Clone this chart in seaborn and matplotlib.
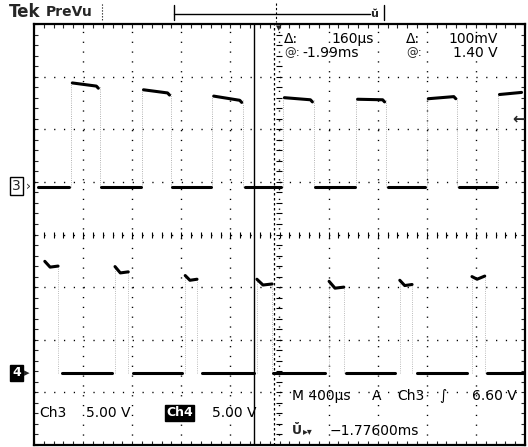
import numpy as np
import pandas as pd
import matplotlib.pyplot as plt
from matplotlib.lines import Line2D
import seaborn as sns

sns.set_theme(style="white")
plt.rcParams["font.family"] = ["DejaVu Sans"]

# screen is 10 x 8 divisions, values below are in divisions from screen centre
# M 400us/div, Ch3 and Ch4 5.00 V/div
ch3_rise = [-4.25, -2.80, -1.37, 0.07, 1.56, 3.00, 4.45]
ch3_fall = [-3.66, -2.21, -0.74, 0.70, 2.17, 3.62]
ch3_high_start = [2.88, 2.75, 2.63, 2.60, 2.57, 2.58, 2.66]
ch3_high_end = [2.82, 2.69, 2.55, 2.56, 2.56, 2.62, 2.70]
ch3_low = 0.90

ch4_blip_start = [-4.78, -3.35, -1.92, -0.46, 1.01, 2.45, 3.92]
ch4_blip_end = [-4.51, -3.08, -1.68, -0.15, 1.31, 2.70, 4.18]
ch4_blip_lvl_start = [-0.54, -0.64, -0.81, -0.88, -0.92, -0.90, -0.83]
ch4_blip_lvl_end = [-0.60, -0.71, -0.85, -0.94, -1.00, -0.95, -0.79]
ch4_low_start = [-4.43, -2.98, -1.58, -0.13, 1.35, 2.80, 4.23]
ch4_low_end = [-3.41, -1.99, -0.52, 0.93, 2.35, 3.82, 5.00]
ch4_low = -2.63

cursor_a = -0.52
cursor_delta = 0.40  # 160us


def build_traces():
    rows = []
    seg = 0
    # ch3 low stretches
    lows = [(-4.94, ch3_rise[0])] + list(zip(ch3_fall, ch3_rise[1:]))
    for a, b in lows:
        rows += [(a + 0.03, ch3_low, seg, "ch3"), (b - 0.03, ch3_low, seg, "ch3")]
        seg += 1
    # ch3 high stretches
    falls = ch3_fall + [5.0]
    for r, f, h0, h1 in zip(ch3_rise, falls, ch3_high_start, ch3_high_end):
        rows += [(r + 0.03, h0, seg, "ch3"), (f - 0.07, h1, seg, "ch3")]
        if f < 5.0:
            rows.append((f - 0.03, h1 - 0.04, seg, "ch3"))
        seg += 1
    # ch4 short pulses
    for a, b, l0, l1 in zip(ch4_blip_start, ch4_blip_end,
                            ch4_blip_lvl_start, ch4_blip_lvl_end):
        mid = a + (b - a) * 0.4
        rows += [(a, l0 + 0.03, seg, "ch4"), (mid, min(l0, l1) - 0.02, seg, "ch4"),
                 (b, l1, seg, "ch4")]
        seg += 1
    for a, b in zip(ch4_low_start, ch4_low_end):
        rows += [(a, ch4_low, seg, "ch4"), (b, ch4_low, seg, "ch4")]
        seg += 1
    return pd.DataFrame(rows, columns=["t", "v", "seg", "ch"])


W, H = 528, 447


def fx(px):
    return px / W


def fy(py):
    return 1 - py / H


fig = plt.figure(figsize=(W / 100, H / 100), dpi=100)
ax = fig.add_axes([fx(34), fy(445), 491 / W, 421 / H])
ax.set_xlim(-5, 5)
ax.set_ylim(-4, 4)

# graticule
dots = (0, (0.9, 6.17))
for x in range(-4, 5):
    ax.axvline(x, color="black", lw=1.0, ls=dots, zorder=1)
for y in range(-3, 4):
    ax.axhline(y, color="black", lw=1.0, ls=dots, zorder=1)
fine = np.arange(-5, 5.01, 0.2)
ax.plot(fine, np.zeros_like(fine), ls="none", marker="|", ms=5, mew=0.8,
        color="black", zorder=1)
fine_y = np.arange(-4, 4.01, 0.2)
ax.plot(np.zeros_like(fine_y), fine_y, ls="none", marker="_", ms=5, mew=0.8,
        color="black", zorder=1)
ax.set_xticks(fine)
ax.set_yticks(fine_y)
ax.tick_params(direction="in", length=3, width=0.8, top=True, right=True,
               bottom=True, left=True, labelbottom=False, labelleft=False)
for sp in ax.spines.values():
    sp.set_color("black")
    sp.set_linewidth(1.6)

# faint edges
ax.vlines(ch3_rise, ch3_low, ch3_high_start, color="0.6", lw=0.6, ls=":")
ax.vlines(ch3_fall, ch3_low, ch3_high_end[:-1], color="0.6", lw=0.6, ls=":")
ax.vlines(ch4_blip_end, ch4_low, ch4_blip_lvl_end, color="0.65", lw=0.6, ls=":")
ax.vlines(ch4_blip_start[1:], ch4_low, ch4_blip_lvl_start[1:], color="0.65",
          lw=0.6, ls=":")

df = build_traces()
sns.lineplot(data=df, x="t", y="v", units="seg", estimator=None, sort=False,
             color="black", lw=2.2, legend=False, ax=ax, zorder=3)
ax.set_xlabel("")
ax.set_ylabel("")

# cursors
ax.axvline(cursor_a, color="black", lw=1.0, zorder=2)
ax.axvline(cursor_a + cursor_delta, color="black", lw=0.9, ls=(0, (2, 2)),
           zorder=2)

# readouts
txt = dict(ha="left", va="center", fontsize=10, color="black")
fig.text(fx(284), fy(39), "Δ:", **txt)
fig.text(fx(331), fy(39), "160µs", **txt)
fig.text(fx(406), fy(39), "Δ:", **txt)
fig.text(fx(448), fy(39), "100mV", **txt)
fig.text(fx(284), fy(53), "@:", ha="left", va="center", fontsize=8.5)
fig.text(fx(302), fy(53), "-1.99ms", **txt)
fig.text(fx(406), fy(53), "@:", ha="left", va="center", fontsize=8.5)
fig.text(fx(453), fy(53), "1.40 V", **txt)

fig.text(fx(292), fy(396), "M 400µs", **txt)
fig.text(fx(372), fy(396), "A", **txt)
fig.text(fx(397), fy(396), "Ch3", **txt)
fig.text(fx(439), fy(396), "∫", **txt)
fig.text(fx(472), fy(396), "6.60 V", **txt)

fig.text(fx(39), fy(413), "Ch3", **txt)
fig.text(fx(86), fy(413), "5.00 V", **txt)
fig.text(fx(166), fy(413), "Ch4", ha="left", va="center", fontsize=9,
         color="white", fontweight="bold",
         bbox=dict(boxstyle="square,pad=0.1", fc="black", ec="black"))
fig.text(fx(212), fy(413), "5.00 V", **txt)

fig.text(fx(292), fy(431), "Ŭ", ha="left", va="center", fontsize=9,
         fontweight="bold")
fig.text(fx(303), fy(431), "▸▾", ha="left", va="center", fontsize=7)
fig.text(fx(330), fy(431), "−1.77600ms", **txt)

# header
fig.text(fx(9), fy(12), "Tek", ha="left", va="center", fontsize=12,
         fontweight="bold")
fig.text(fx(46), fy(12), "PreVu", ha="left", va="center", fontsize=10,
         fontweight="bold")
fig.add_artist(Line2D([fx(102), fx(102)], [fy(4), fy(21)], color="black",
                      lw=0.8, ls=":"))
fig.add_artist(Line2D([fx(174), fx(174)], [fy(5), fy(20)], color="black",
                      lw=1.0))
fig.add_artist(Line2D([fx(174), fx(370)], [fy(14), fy(14)], color="black",
                      lw=1.0))
fig.add_artist(Line2D([fx(384), fx(384)], [fy(5), fy(20)], color="black",
                      lw=1.0))
fig.add_artist(Line2D([fx(276), fx(276)], [fy(3), fy(22)], color="black",
                      lw=0.8, ls=(0, (2, 2))))
fig.text(fx(370), fy(14), "ŭ", ha="left", va="center", fontsize=8,
         fontweight="bold")
fig.text(fx(279), fy(28), "▼", ha="center", va="center", fontsize=5)

# channel ground markers and trigger level
fig.text(fx(12), fy(186), "3", ha="left", va="center", fontsize=10,
         bbox=dict(boxstyle="square,pad=0.15", fc="white", ec="black", lw=1))
fig.text(fx(26), fy(186), "›", ha="left", va="center", fontsize=9)
fig.text(fx(12), fy(373), "4", ha="left", va="center", fontsize=9,
         color="white", fontweight="bold",
         bbox=dict(boxstyle="square,pad=0.15", fc="black", ec="black"))
fig.text(fx(24), fy(373), "▸", ha="left", va="center", fontsize=8)
fig.text(fx(525), fy(119), "←", ha="right", va="center", fontsize=11,
         fontweight="bold")

fig.savefig("out.png", dpi=100)
